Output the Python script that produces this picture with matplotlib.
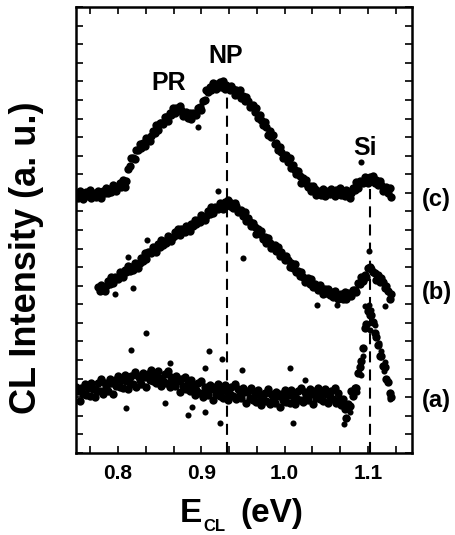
import matplotlib
matplotlib.use("Agg")
import matplotlib.pyplot as plt
from matplotlib.ticker import MultipleLocator

plt.rcParams['font.family'] = ['Liberation Sans', 'DejaVu Sans']
plt.rcParams['font.weight'] = 'bold'

# photon energy grid (eV)
energy = [
    0.750, 0.752, 0.754, 0.756, 0.758, 0.760, 0.762, 0.764, 0.766, 0.768,
    0.770, 0.772, 0.774, 0.776, 0.778, 0.780, 0.782, 0.784, 0.786, 0.788,
    0.790, 0.792, 0.794, 0.796, 0.798, 0.800, 0.802, 0.804, 0.806, 0.808,
    0.810, 0.812, 0.814, 0.816, 0.818, 0.820, 0.822, 0.824, 0.826, 0.828,
    0.830, 0.832, 0.834, 0.836, 0.838, 0.840, 0.842, 0.844, 0.846, 0.848,
    0.850, 0.852, 0.854, 0.856, 0.858, 0.860, 0.862, 0.864, 0.866, 0.868,
    0.870, 0.872, 0.874, 0.876, 0.878, 0.880, 0.882, 0.884, 0.886, 0.888,
    0.890, 0.892, 0.894, 0.896, 0.898, 0.900, 0.902, 0.904, 0.906, 0.908,
    0.910, 0.912, 0.914, 0.916, 0.918, 0.920, 0.922, 0.924, 0.926, 0.928,
    0.930, 0.932, 0.934, 0.936, 0.938, 0.940, 0.942, 0.944, 0.946, 0.948,
    0.950, 0.952, 0.954, 0.956, 0.958, 0.960, 0.962, 0.964, 0.966, 0.968,
    0.970, 0.972, 0.974, 0.976, 0.978, 0.980, 0.982, 0.984, 0.986, 0.988,
    0.990, 0.992, 0.994, 0.996, 0.998, 1.000, 1.002, 1.004, 1.006, 1.008,
    1.010, 1.012, 1.014, 1.016, 1.018, 1.020, 1.022, 1.024, 1.026, 1.028,
    1.030, 1.032, 1.034, 1.036, 1.038, 1.040, 1.042, 1.044, 1.046, 1.048,
    1.050, 1.052, 1.054, 1.056, 1.058, 1.060, 1.062, 1.064, 1.066, 1.068,
    1.070, 1.072, 1.074, 1.076, 1.078, 1.080, 1.082, 1.084, 1.086, 1.088,
    1.090, 1.092, 1.094, 1.096, 1.098, 1.100, 1.102, 1.104, 1.106, 1.108,
    1.110, 1.112, 1.114, 1.116, 1.118, 1.120, 1.122, 1.124, 1.126, 1.128,
]

# spectrum (c), offset already included
cl_c = [
    13.95, 13.74, 14.08, 13.92, 13.69, 13.86, 14.04, 13.81, 14.14, 13.74,
    14.01, 13.91, 13.80, 14.10, 13.98, 13.74, 14.12, 13.98, 14.28, 14.00,
    14.21, 14.04, 14.42, 14.30, 14.12, 14.32, 14.53, 14.34, 14.69, 14.32,
    14.62, 15.28, 15.47, 15.86, 15.90, 15.80, 16.33, 16.28, 16.63, 16.40,
    16.66, 16.53, 16.97, 16.92, 16.79, 17.06, 17.35, 17.23, 17.66, 17.36,
    17.74, 17.74, 17.72, 18.09, 18.06, 17.86, 18.30, 18.20, 18.54, 18.30,
    18.55, 18.42, 18.68, 18.45, 18.16, 18.25, 18.36, 18.05, 18.30, 17.96,
    18.29, 18.24, 18.19, 18.58, 18.60, 18.46, 18.95, 19.00, 19.51, 19.42,
    19.67, 19.53, 19.92, 19.83, 19.60, 19.76, 19.94, 19.71, 20.02, 19.59,
    19.82, 19.68, 19.51, 19.75, 19.57, 19.24, 19.54, 19.30, 19.52, 19.12,
    19.22, 18.93, 19.18, 18.94, 18.63, 18.66, 18.72, 18.36, 18.55, 18.03,
    18.17, 17.92, 17.66, 17.81, 17.55, 17.12, 17.33, 17.00, 17.12, 16.64,
    16.67, 16.31, 16.49, 16.22, 15.88, 15.93, 16.01, 15.67, 15.88, 15.35,
    15.48, 15.24, 14.99, 15.15, 14.89, 14.52, 14.78, 14.51, 14.70, 14.29,
    14.38, 14.12, 14.39, 14.18, 13.89, 14.00, 14.12, 13.90, 14.23, 13.84,
    14.12, 14.02, 13.92, 14.21, 14.09, 13.81, 14.16, 13.98, 14.25, 13.91,
    14.07, 13.84, 14.16, 13.98, 13.73, 14.00, 14.28, 14.16, 14.59, 14.28,
    14.61, 14.57, 14.52, 14.87, 14.81, 14.54, 14.86, 14.64, 14.88, 14.52,
    14.67, 14.40, 14.66, 14.42, 14.12, 14.21, 14.32, 14.01, 14.25, 13.76,
]

# spectrum (b) starts at energy[13]
b_start = 13
cl_b = [
    8.94, 8.73, 9.06, 8.90, 8.74, 8.97, 9.23,
    9.07, 9.46, 9.13, 9.46, 9.42, 9.37, 9.72, 9.67, 9.45, 9.85,
    9.72, 10.04, 9.77, 10.00, 9.84, 10.22, 10.11, 9.96, 10.21, 10.48,
    10.35, 10.76, 10.45, 10.82, 10.80, 10.75, 11.10, 11.04, 10.82, 11.23,
    11.11, 11.44, 11.18, 11.42, 11.28, 11.67, 11.57, 11.41, 11.63, 11.88,
    11.71, 12.08, 11.72, 12.04, 11.97, 11.90, 12.23, 12.16, 11.92, 12.34,
    12.23, 12.56, 12.31, 12.56, 12.42, 12.81, 12.72, 12.55, 12.78, 13.02,
    12.85, 13.24, 12.90, 13.23, 13.19, 13.13, 13.46, 13.37, 13.13, 13.52,
    13.37, 13.64, 13.28, 13.43, 13.18, 13.47, 13.28, 12.98, 13.03, 13.10,
    12.76, 12.97, 12.47, 12.63, 12.41, 12.20, 12.39, 12.17, 11.79, 12.04,
    11.76, 11.93, 11.51, 11.61, 11.32, 11.56, 11.32, 11.01, 11.09, 11.19,
    10.87, 11.10, 10.61, 10.79, 10.58, 10.38, 10.58, 10.37, 9.99, 10.25,
    9.97, 10.15, 9.73, 9.82, 9.51, 9.75, 9.49, 9.20, 9.29, 9.41,
    9.12, 9.37, 8.91, 9.12, 8.94, 8.78, 9.03, 8.87, 8.54, 8.85,
    8.63, 8.85, 8.49, 8.64, 8.41, 8.71, 8.53, 8.27, 8.40, 8.56,
    8.30, 8.65, 8.29, 8.59, 8.52, 8.44, 8.77, 8.79, 8.64, 9.13,
    9.08, 9.47, 9.27, 9.57, 9.48, 9.98, 10.02, 9.89, 9.75, 9.68,
    9.30, 9.57, 9.20, 9.42, 9.18, 8.89, 9.01, 8.74, 8.31, 8.53,
]

# spectrum (a)
cl_a = [
    3.55, 3.33, 2.79, 3.51, 3.17, 3.73, 3.11, 3.49, 3.09, 3.77,
    3.47, 3.03, 3.37, 3.75, 3.31, 3.97, 3.19, 3.75, 3.55, 3.36,
    3.96, 3.74, 3.20, 3.92, 3.59, 4.15, 3.53, 3.91, 3.50, 4.18,
    3.87, 3.43, 3.76, 4.14, 3.69, 4.35, 3.56, 4.12, 3.91, 3.71,
    4.31, 4.09, 3.54, 4.26, 3.92, 4.47, 3.85, 4.19, 3.76, 4.40,
    4.06, 3.59, 3.89, 4.24, 3.76, 4.39, 3.57, 4.08, 3.84, 3.59,
    4.15, 3.88, 3.30, 3.97, 3.59, 4.10, 3.43, 3.77, 3.32, 3.95,
    3.60, 3.11, 3.40, 3.74, 3.25, 3.86, 3.03, 3.56, 3.33, 3.10,
    3.67, 3.42, 2.84, 3.53, 3.16, 3.69, 3.04, 3.40, 2.98, 3.64,
    3.32, 2.86, 3.18, 3.54, 3.08, 3.72, 2.92, 3.45, 3.21, 2.97,
    3.52, 3.26, 2.68, 3.36, 2.98, 3.49, 2.83, 3.17, 2.73, 3.37,
    3.04, 2.58, 2.89, 3.25, 2.78, 3.42, 2.61, 3.15, 2.92, 2.70,
    3.29, 3.05, 2.50, 3.20, 2.85, 3.39, 2.76, 3.12, 2.71, 3.38,
    3.07, 2.62, 2.95, 3.32, 2.87, 3.52, 2.73, 3.28, 3.07, 2.86,
    3.44, 3.20, 2.64, 3.34, 2.98, 3.52, 2.88, 3.24, 2.82, 3.47,
    3.15, 2.68, 3.00, 3.35, 2.89, 3.52, 2.71, 3.23, 2.91, 2.59,
    2.90, 2.39, 1.89, 2.64, 2.55, 3.36, 3.07, 3.49, 3.51, 4.33,
    4.65, 4.96, 5.66, 6.75, 6.93, 7.65, 7.41, 7.41, 7.03, 6.44,
    6.24, 5.80, 5.20, 5.20, 4.67, 4.62, 3.97, 3.80, 3.24, 3.03,
]

# scattered points away from the main traces
stray_a_x = [0.834, 0.816, 0.909, 0.925, 0.810, 0.922, 1.010, 1.071, 0.904, 0.949,
             1.006, 0.884, 0.904, 0.856, 0.889, 0.862, 1.025, 1.097, 1.101, 1.104,
             1.099, 1.103, 1.108, 1.113, 1.116, 1.119, 1.121, 1.094, 1.092, 1.087,
             1.075, 1.078, 1.126]
stray_a_y = [6.46, 5.54, 5.49, 5.06, 2.42, 1.61, 1.61, 1.55, 4.57, 4.47,
             4.57, 2.05, 2.21, 2.69, 2.48, 4.84, 3.93, 7.90, 7.95, 7.70,
             6.90, 6.60, 6.90, 5.90, 5.50, 4.40, 4.90, 5.20, 4.20, 3.30,
             1.90, 2.20, 2.90]
stray_b_x = [0.812, 0.818, 0.835, 0.920, 0.950, 1.101, 1.039, 1.063, 1.120, 0.796]
stray_b_y = [10.55, 8.88, 11.46, 14.10, 10.50, 10.87, 7.97, 7.97, 7.91, 8.56]
stray_c_x = [1.092, 0.896]
stray_c_y = [15.65, 17.55]

np_energy = 0.9305
si_energy = 1.103

fig = plt.figure(figsize=(4.55, 5.35), dpi=100)
ax = fig.add_axes([0.167, 0.1533, 0.7385, 0.8336])

# guide lines under the points
dash = (0, (5.3, 3.4))
ax.plot([np_energy, np_energy], [0, 19.4], color='black', lw=1.5, ls=dash, zorder=1)
ax.plot([si_energy, si_energy], [0, 14.2], color='black', lw=1.5, ls=dash, zorder=1)

trace = dict(ls='none', marker='o', ms=6.0, mew=0, color='black', zorder=2)
loose = dict(ls='none', marker='o', ms=4.4, mew=0, color='black', zorder=2)
ax.plot(energy, cl_c, **trace)
ax.plot(energy[b_start:], cl_b, **trace)
ax.plot(energy, cl_a, **trace)
ax.plot(stray_a_x, stray_a_y, **loose)
ax.plot(stray_b_x, stray_b_y, **loose)
ax.plot(stray_c_x, stray_c_y, **loose)

ax.set_xlim(0.7496, 1.1529)
ax.set_ylim(0, 24)

ax.xaxis.set_major_locator(MultipleLocator(0.1))
ax.xaxis.set_minor_locator(MultipleLocator(0.1 / 3))
ax.yaxis.set_major_locator(MultipleLocator(1))
ax.set_yticklabels([])
ax.tick_params(which='both', direction='in', top=True, right=True,
               length=5, width=1.2, labelsize=15, pad=8)
for sp in ax.spines.values():
    sp.set_linewidth(1.8)

# peak labels
ax.text(0.8612, 19.91, 'PR', fontsize=18, ha='center', va='center')
ax.text(0.9297, 21.37, 'NP', fontsize=18, ha='center', va='center')
ax.text(1.0965, 16.42, 'Si', fontsize=18, ha='center', va='center')

# spectrum tags at the right
for tag, yy in [('(c)', 13.62), ('(b)', 8.61), ('(a)', 2.85)]:
    ax.text(1.165, yy, tag, fontsize=17, ha='left', va='center', clip_on=False)

# axis titles
fig.text(27 / 455, 1 - 258 / 535, 'CL Intensity (a. u.)', rotation=90,
         fontsize=26, ha='center', va='center')
fig.text(180 / 455, 1 - 522 / 535, 'E', fontsize=24, ha='left', va='baseline')
fig.text(203 / 455, 1 - 531 / 535, 'CL', fontsize=12, ha='left', va='baseline')
fig.text(240 / 455, 1 - 522 / 535, '(eV)', fontsize=24, ha='left', va='baseline')

fig.savefig('out.png', dpi=100)
